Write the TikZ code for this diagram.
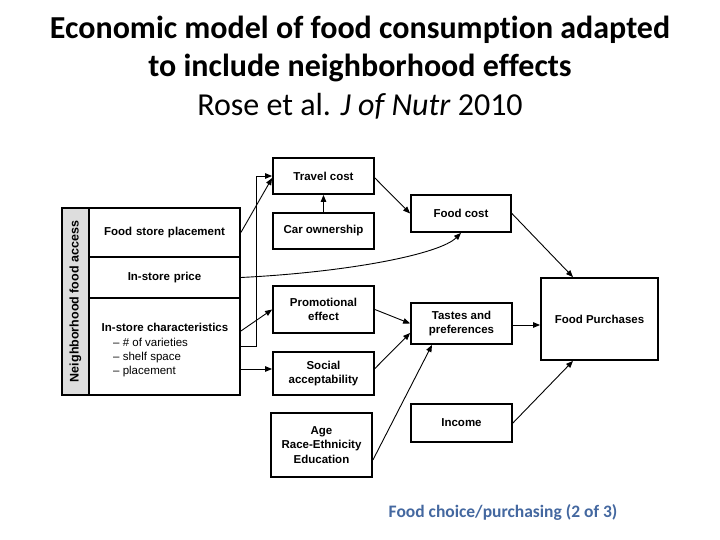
\documentclass[tikz,border=0pt]{standalone}
\usepackage{fontspec}
\setmainfont{Liberation Sans}
\newfontfamily\titlefont[Ligatures=NoCommon]{Carlito}
\usetikzlibrary{arrows.meta}
\definecolor{footblue}{RGB}{68,104,160}
\definecolor{stripgray}{RGB}{221,221,221}
\begin{document}
\begin{tikzpicture}[x=1pt,y=-1pt,
  box/.style={draw, line width=1.8pt, inner sep=0pt, align=center,
    font=\fontsize{11.5}{14.5}\selectfont\bfseries},
  cell/.style={box, minimum width=151, text width=145},
  item/.style={anchor=base west, inner sep=0pt, font=\fontsize{11.5}{14}\selectfont},
  arr/.style={line width=0.9pt, -{Triangle[length=7pt,width=5.5pt]}},
  title/.style={font=\titlefont\bfseries\fontsize{32}{38}\selectfont}
]
\useasboundingbox (0,0) rectangle (720,540);
\fill[white] (0,0) rectangle (720,540);

% title
\node[title] (t1) at (360,30) {Economic model of food consumption adapted};
\node[title] (t2) at (360,68) {to include neighborhood effects};
\node[font=\titlefont\fontsize{32}{38}\selectfont] (t3) at (360,106) {Rose et al. \textit{J of Nutr} 2010};

% left block
\node[box, fill=stripgray, minimum width=27, minimum height=187] (strip) at (75.5,301.5) {};
\node[rotate=90, inner sep=0pt, font=\fontsize{12.5}{14}\selectfont\bfseries] (stripT) at (strip.center) {Neighborhood food access};
\node[cell, minimum height=49] (fsp) at (164.5,232.5) {Food store placement};
\node[cell, minimum height=41] (price) at (164.5,277.5) {In-store price};
\node[cell, minimum height=97] (char) at (164.5,346.5) {};
\node[anchor=base, inner sep=0pt, font=\fontsize{11.5}{14}\selectfont\bfseries] (charT) at (165,331) {In-store characteristics};
\node[item] (c1) at (113,346) {– \# of varieties};
\node[item] (c2) at (113,360) {– shelf space};
\node[item] (c3) at (113,374) {– placement};

% middle column
\node[box, minimum width=101, minimum height=36] (travel) at (323.5,176) {Travel cost};
\node[box, minimum width=101, minimum height=36] (car) at (323.5,231) {Car ownership};
\node[box, minimum width=101, minimum height=47] (promo) at (323.5,309.5) {Promotional\\effect};
\node[box, minimum width=101, minimum height=43] (social) at (323.5,373.5) {Social\\acceptability};
\node[box, minimum width=101, minimum height=64] (demo) at (321.5,445) {Age\\Race-Ethnicity\\Education};

% right columns
\node[box, minimum width=100, minimum height=37] (foodcost) at (461,213.5) {Food cost};
\node[box, minimum width=101, minimum height=41] (tastes) at (461.5,323.5) {Tastes and\\preferences};
\node[box, minimum width=101, minimum height=38] (income) at (461.5,423) {Income};
\node[box, minimum width=117, minimum height=82] (fp) at (599.5,319) {Food Purchases};

% connectors
\draw[arr] (fsp.east) -- ([yshift=-2pt]travel.west);
\draw[arr] (char.east) -- ++(16,0) |- (travel.west);
\draw[arr] ([yshift=15.5pt]char.east) -- (promo.west);
\draw[arr] ([yshift=-22.5pt]char.east) -- ([yshift=-22.5pt]char.east -| social.west);
\draw[arr] (car.north) -- (travel.south);
\draw[arr] (price.east) .. controls (350,272) and (440,254) .. (foodcost.south);
\draw[arr] ([yshift=-2pt]travel.east) -- (foodcost.west);
\draw[arr] (foodcost.east) -- ([xshift=-26.5pt]fp.north);
\draw[arr] (promo.east) -- (tastes.west);
\draw[arr] ([yshift=5pt]social.east) -- ([yshift=-9.5pt]tastes.west);
\draw[arr] ([yshift=-15pt]demo.east) -- ([xshift=-29.5pt]tastes.south);
\draw[arr] ([yshift=-1.5pt]tastes.east) -- ([yshift=-1.5pt]tastes.east -| fp.west);
\draw[arr] (income.east) -- ([xshift=-26.5pt]fp.south);

% footer
\node[font=\titlefont\bfseries\fontsize{17.5}{20}\selectfont, text=footblue] (foot) at (503,512) {Food choice/purchasing (2 of 3)};
\end{tikzpicture}
\end{document}
